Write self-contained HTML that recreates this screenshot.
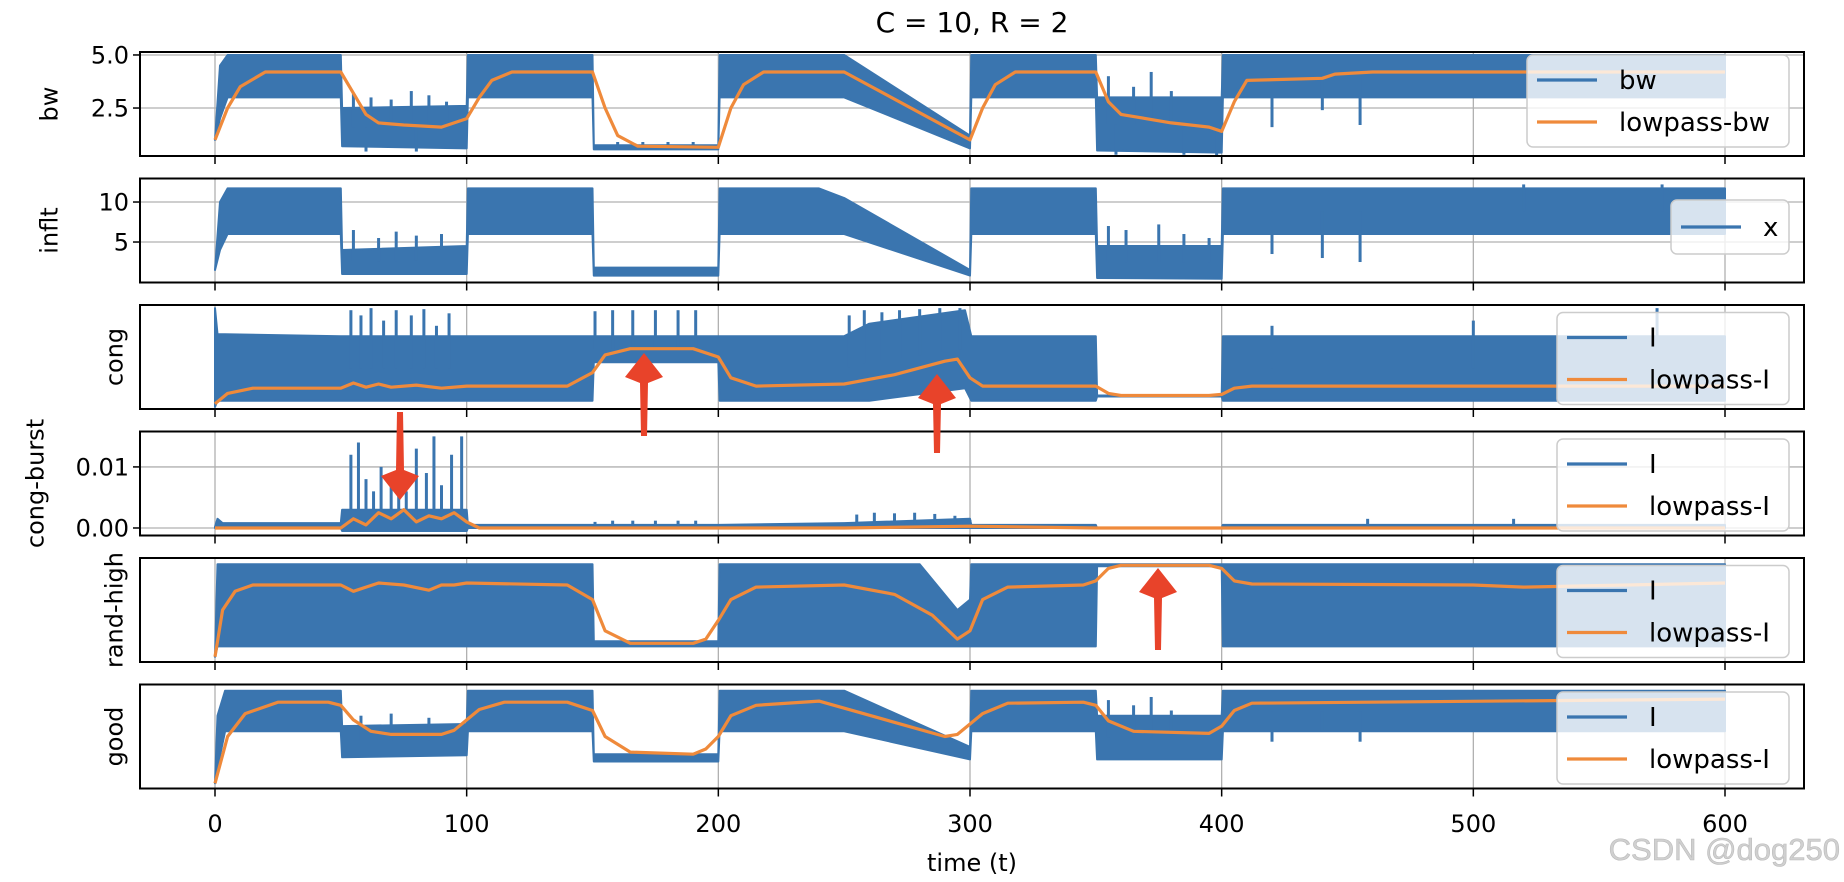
<!DOCTYPE html>
<html><head><meta charset="utf-8">
<style>
html,body{margin:0;padding:0;background:#fff;}
svg{display:block;font-family:"DejaVu Sans","Liberation Sans",sans-serif;}
</style></head>
<body>
<svg id="fig" width="1844" height="882" viewBox="0 0 1844 882" xmlns="http://www.w3.org/2000/svg">
<rect width="1844" height="882" fill="#fff"/>
<text x="972" y="32" font-size="28" text-anchor="middle">C = 10, R = 2</text>
</svg>
<script>
// ---- x axis ----
const xTicks = [0,100,200,300,400,500,600];
// ---- panel 1: bw ----
const bwT  = [0,2,5,50,50.5,100,100.5,150,150.5,200,200.5,250,300,300.5,350,350.5,400,400.5,600];
const bwHi = [1.0,4.5,5.0,5.0,2.5,2.6,5.0,5.0,0.75,0.75,5.0,5.0,1.2,5.0,5.0,3.0,3.0,5.0,5.0];
const bwLo = [1.0,2.0,3.0,3.0,0.7,0.6,3.0,3.0,0.55,0.55,3.0,3.0,0.6,3.0,3.0,0.5,0.4,3.0,3.0];
const bwSpikes = [[55,3.2],[62,3.0],[70,2.9],[78,3.3],[85,3.1],[92,2.8],[160,0.9],[170,0.9],[180,0.9],[190,0.9],[355,4.0],[365,3.5],[372,4.2],[380,3.3],[390,3.0],[358,0.3],[385,0.3],[398,0.25],[420,1.6],[440,2.4],[455,1.7],[60,0.45],[80,0.45]];
const bwLpT = [0,5,10,20,50,55,60,65,75,90,100,105,110,118,150,155,160,168,200,205,210,218,250,300,305,310,318,350,355,360,380,395,400,405,410,440,445,460,600];
const bwLp  = [1.0,2.5,3.5,4.2,4.2,3.2,2.2,1.8,1.7,1.6,2.0,3.0,3.8,4.2,4.2,2.5,1.2,0.7,0.65,2.5,3.6,4.2,4.2,1.0,2.5,3.6,4.2,4.2,2.8,2.2,1.8,1.6,1.4,2.8,3.8,3.9,4.1,4.2,4.2];
const bwTicks = [2.5,5.0];
const bwTickLabels = ["2.5","5.0"];
// ---- panel 2: inflt ----
const inT  = [0,2,5,50,50.5,100,100.5,150,150.5,200,200.5,240,250,300,300.5,350,350.5,400,400.5,600];
const inHi = [1.5,10,11.7,11.7,4.0,4.5,11.7,11.7,1.8,1.8,11.7,11.7,10.5,1.5,11.7,11.7,4.5,4.5,11.7,11.7];
const inLo = [1.5,4,6,6,1.0,1.0,6,6,0.8,0.8,6,6,6,0.8,6,6,0.5,0.4,6,6];
const inSpikes = [[55,6.5],[65,5.5],[72,6.3],[80,5.8],[90,6.0],[355,7.0],[362,6.5],[375,7.2],[385,6.0],[395,5.5],[420,3.5],[440,3.0],[455,2.5],[520,12.2],[575,12.2]];
const inTicks = [5,10];
const inTickLabels = ["5","10"];
// ---- panel 3: cong (normalized) ----
const cgT  = [0,1,50,50.5,100,100.5,150,150.5,200,200.5,250,260,298,300.5,350,350.5,400,400.5,600];
const cgHi = [0.97,0.72,0.70,0.70,0.70,0.70,0.70,0.70,0.70,0.70,0.70,0.82,0.95,0.70,0.70,0.13,0.13,0.70,0.70];
const cgLo = [0.02,0.08,0.08,0.08,0.08,0.08,0.08,0.45,0.45,0.08,0.08,0.08,0.2,0.08,0.08,0.12,0.12,0.08,0.08];
const cgSpikes = [[54,0.95],[58,0.9],[62,0.97],[67,0.85],[72,0.95],[78,0.9],[83,0.96],[88,0.8],[93,0.92],[151,0.94],[158,0.95],[166,0.95],[175,0.95],[184,0.95],[191,0.95],[252,0.9],[258,0.95],[265,0.93],[272,0.95],[280,0.96],[288,0.97],[296,0.97],[420,0.8],[500,0.85],[573,0.97]];
const cgLpT = [0,5,15,50,55,60,65,70,80,90,100,140,150,155,165,190,200,205,215,250,270,290,295,300,305,315,350,355,360,395,400,405,412,600];
const cgLp  = [0.05,0.15,0.2,0.2,0.25,0.21,0.24,0.21,0.23,0.2,0.22,0.22,0.35,0.52,0.58,0.58,0.5,0.3,0.22,0.24,0.33,0.46,0.48,0.3,0.22,0.22,0.22,0.15,0.13,0.13,0.14,0.2,0.22,0.22];
// ---- panel 4: cong-burst ----
const cbT  = [0,1,3,50,50.5,100,100.5,150,150.5,200,200.5,250,300,300.5,350,350.5,400,400.5,600];
const cbHi = [0.0002,0.0015,0.0008,0.0008,0.003,0.003,0.0005,0.0005,0.0005,0.0005,0.0005,0.0008,0.0015,0.0005,0.0005,0.0,0.0,0.0005,0.0005];
const cbLo = [0,0,0,0,-0.0005,-0.0005,0,0,0,0,0,0,0,0,0,0,0,0,0];
const cbSpikes = [[52,0.001],[54,0.012],[57,0.014],[60,0.008],[63,0.006],[66,0.01],[70,0.008],[73,0.011],[76,0.006],[80,0.013],[84,0.009],[87,0.015],[90,0.007],[94,0.012],[98,0.015],[151,0.001],[158,0.0012],[166,0.0012],[175,0.0012],[184,0.0012],[191,0.0012],[255,0.0022],[262,0.0025],[270,0.0024],[278,0.0025],[286,0.0023],[294,0.002],[300,0.0013],[458,0.0015],[516,0.0015]];
const cbLpT = [0,50,55,60,65,70,75,80,85,90,95,100,105,250,300,350,600];
const cbLp  = [0,0,0.0015,0.0005,0.0025,0.0015,0.003,0.001,0.002,0.0015,0.0025,0.001,0,0,0.0003,0,0];
const cbTicks = [0,0.01];
const cbTickLabels = ["0.00","0.01"];
// ---- panel 5: rand-high (normalized) ----
const rhT  = [0,1,150,150.5,200,200.5,280,295,300,300.5,350,350.5,400,400.5,600];
const rhHi = [0.05,0.94,0.94,0.2,0.2,0.94,0.94,0.5,0.6,0.94,0.94,0.94,0.94,0.94,0.94];
const rhLo = [0.05,0.15,0.15,0.15,0.15,0.15,0.15,0.15,0.15,0.15,0.15,0.92,0.92,0.15,0.15];
const rhSpikes = [];
const rhLpT = [0,3,8,15,50,55,60,65,75,85,90,95,100,140,150,155,165,190,195,200,205,215,250,270,285,295,300,305,315,345,350,355,360,395,400,405,412,500,520,600];
const rhLp  = [0.05,0.5,0.68,0.74,0.74,0.68,0.72,0.76,0.74,0.69,0.74,0.74,0.76,0.74,0.6,0.3,0.18,0.18,0.22,0.4,0.6,0.72,0.74,0.65,0.45,0.22,0.3,0.6,0.72,0.74,0.78,0.9,0.93,0.93,0.9,0.78,0.75,0.74,0.72,0.76];
// ---- panel 6: good (normalized) ----
const gdT  = [0,1,4,50,50.5,100,100.5,150,150.5,200,200.5,250,300,300.5,350,350.5,400,400.5,600];
const gdHi = [0.05,0.7,0.94,0.94,0.6,0.62,0.94,0.94,0.33,0.33,0.94,0.94,0.4,0.94,0.94,0.7,0.7,0.94,0.94];
const gdLo = [0.05,0.2,0.55,0.55,0.3,0.32,0.55,0.55,0.26,0.26,0.55,0.55,0.28,0.55,0.55,0.28,0.28,0.55,0.55];
const gdSpikes = [[355,0.85],[365,0.8],[372,0.88],[380,0.75],[390,0.7],[58,0.7],[70,0.72],[85,0.68],[420,0.45],[440,0.55],[455,0.45]];
const gdLpT = [0,5,12,25,45,50,55,62,70,90,95,100,105,115,140,150,155,165,190,195,200,205,215,240,290,295,300,305,315,345,350,355,365,395,400,405,412,600];
const gdLp  = [0.05,0.5,0.72,0.83,0.83,0.8,0.66,0.55,0.52,0.52,0.56,0.66,0.76,0.83,0.83,0.75,0.5,0.35,0.33,0.38,0.5,0.7,0.8,0.84,0.5,0.52,0.62,0.72,0.82,0.83,0.8,0.65,0.55,0.53,0.6,0.75,0.82,0.86];

const NS = "http://www.w3.org/2000/svg";
const svg = document.getElementById('fig');
const AX_L = 140, AX_R = 1804, PH = 104;
const BLUE = "#3a75af", ORANGE = "#ef8a3b";
const xs = t => 215 + (t - 0) * (1725 - 215) / 600;

function mk(tag, attrs, parent) {
  const e = document.createElementNS(NS, tag);
  for (const k in attrs) e.setAttribute(k, attrs[k]);
  (parent || svg).appendChild(e);
  return e;
}

const panels = [
  {name:"bw", top:52, ymin:0.24, ymax:5.14, t:bwT, hi:bwHi, lo:bwLo, sp:bwSpikes, lt:bwLpT, lp:bwLp, ticks:bwTicks, tl:bwTickLabels, leg:["bw","lowpass-bw"], lx:1527, lw:262, labX:49},
  {name:"inflt", top:178.5, ymin:-0.06, ymax:12.94, t:inT, hi:inHi, lo:inLo, sp:inSpikes, lt:null, lp:null, ticks:inTicks, tl:inTickLabels, leg:["x"], lx:1671, lw:118, labX:49},
  {name:"cong", top:305, ymin:0, ymax:1, t:cgT, hi:cgHi, lo:cgLo, sp:cgSpikes, lt:cgLpT, lp:cgLp, ticks:[], tl:[], leg:["I","lowpass-I"], lx:1557, lw:232, labX:114},
  {name:"cong-burst", top:431.5, ymin:-0.00123, ymax:0.0158, t:cbT, hi:cbHi, lo:cbLo, sp:cbSpikes, lt:cbLpT, lp:cbLp, ticks:cbTicks, tl:cbTickLabels, leg:["I","lowpass-I"], lx:1557, lw:232, labX:35},
  {name:"rand-high", top:558, ymin:0, ymax:1, t:rhT, hi:rhHi, lo:rhLo, sp:rhSpikes, lt:rhLpT, lp:rhLp, ticks:[], tl:[], leg:["I","lowpass-I"], lx:1557, lw:232, labX:114},
  {name:"good", top:684.5, ymin:0, ymax:1, t:gdT, hi:gdHi, lo:gdLo, sp:gdSpikes, lt:gdLpT, lp:gdLp, ticks:[], tl:[], leg:["I","lowpass-I"], lx:1557, lw:232, labX:114}
];

panels.forEach((p, pi) => {
  const ys = v => p.top + PH - (v - p.ymin) / (p.ymax - p.ymin) * PH;
  const g = mk('g', {});
  
  
  xTicks.forEach(t => {
    const l = mk('line', {x1:xs(t), x2:xs(t), y1:p.top, y2:p.top+PH, stroke:"#b0b0b0", "stroke-width":1.3}, g);
    
    
  });
  p.ticks.forEach((v, i) => {
    const l = mk('line', {x1:AX_L, x2:AX_R, y1:ys(v), y2:ys(v), stroke:"#b0b0b0", "stroke-width":1.3}, g);
    
    
    mk('line', {x1:AX_L-7, x2:AX_L, y1:ys(v), y2:ys(v), stroke:"#000", "stroke-width":1.5}, g);
    const tx = mk('text', {x:AX_L-11, y:ys(v)+8.5, "font-size":24, "text-anchor":"end"}, g);
    tx.textContent = p.tl[i];
    
    
  });
  let pts = [];
  for (let i = 0; i < p.t.length; i++) pts.push(xs(p.t[i]).toFixed(1) + "," + ys(p.hi[i]).toFixed(1));
  for (let i = p.t.length - 1; i >= 0; i--) pts.push(xs(p.t[i]).toFixed(1) + "," + ys(p.lo[i]).toFixed(1));
  const band = mk('polygon', {points:pts.join(" "), fill:BLUE, stroke:BLUE, "stroke-width":2, "stroke-linejoin":"round"}, g);
  
  
  const interp = (arr, t) => {
    for (let i = 1; i < p.t.length; i++) if (t <= p.t[i]) {
      const f = (t - p.t[i-1]) / (p.t[i] - p.t[i-1] || 1);
      return arr[i-1] + f * (arr[i] - arr[i-1]);
    }
    return arr[arr.length-1];
  };
  p.sp.forEach(s => {
    const mid = (interp(p.hi, s[0]) + interp(p.lo, s[0])) / 2;
    const l = mk('line', {x1:xs(s[0]), x2:xs(s[0]), y1:ys(mid), y2:ys(s[1]), stroke:BLUE, "stroke-width":3}, g);
    
    
  });
  if (p.lt) {
    const d = p.lt.map((t, i) => (i ? "L" : "M") + xs(t).toFixed(1) + "," + ys(p.lp[i]).toFixed(1)).join("");
    const pl = mk('path', {d:d, fill:"none", stroke:ORANGE, "stroke-width":3.2, "stroke-linejoin":"round"}, g);
    
    
  }
  const fr = mk('rect', {x:AX_L, y:p.top, width:AX_R-AX_L, height:PH, fill:"none", stroke:"#000", "stroke-width":2}, g);
  
  
  xTicks.forEach(t => mk('line', {x1:xs(t), x2:xs(t), y1:p.top+PH, y2:p.top+PH+8, stroke:"#000", "stroke-width":1.5}, g));
  const yl = mk('text', {x:p.labX, y:p.top+PH/2, "font-size":24, "text-anchor":"middle", transform:`rotate(-90 ${p.labX} ${p.top+PH/2})`, dy:"0.35em"}, g);
  yl.textContent = p.name;
  
  
  const two = p.leg.length === 2;
  const ly = p.top + (pi === 1 ? 21.5 : (pi === 0 ? 3 : 7.5));
  const lh = two ? 92 : 54;
  const lg = mk('g', {}, g);
  
  
  mk('rect', {x:p.lx, y:ly, width:p.lw, height:lh, rx:6, fill:"#fff", "fill-opacity":0.8, stroke:"#cccccc", "stroke-width":1.5}, lg);
  p.leg.forEach((name, i) => {
    const cy = ly + 25 + i * 42 + (two ? 0 : 2);
    const hx = p.lx + 10;
    mk('line', {x1:hx, x2:hx+60, y1:cy, y2:cy, stroke:i ? ORANGE : BLUE, "stroke-width":3.2}, lg);
    const tx = mk('text', {x:hx+82, y:cy+9, "font-size":26}, lg);
    tx.textContent = name;
    
    
  });
});

xTicks.forEach(t => {
  const tx = mk('text', {x:xs(t), y:832, "font-size":24, "text-anchor":"middle"});
  tx.textContent = String(t);
  
  
});
const xl = mk('text', {x:972, y:871, "font-size":24, "text-anchor":"middle"});
xl.textContent = "time (t)";



const arrows = [[400,412,500],[644,436,353],[937,453,374],[1158,650,568]];
arrows.forEach(a => {
  const [x, y0, y1] = a;
  const dir = y1 > y0 ? 1 : -1;
  const hb = y1 - dir * 30;
  const ar = mk('path', {d:`M${x-3},${y0} L${x+3},${y0} L${x+4},${hb} L${x+19},${hb+dir*6} L${x},${y1} L${x-19},${hb+dir*6} L${x-4},${hb} Z`, fill:"#e8432a"});
  
  
});

const wm = mk('text', {x:1840, y:860, "font-size":31, "text-anchor":"end", fill:"#d0d0d0", stroke:"#bbb", "stroke-width":0.6, "font-family":"Liberation Sans, sans-serif"});
wm.textContent = "CSDN @dog250";


</script>
</body></html>
